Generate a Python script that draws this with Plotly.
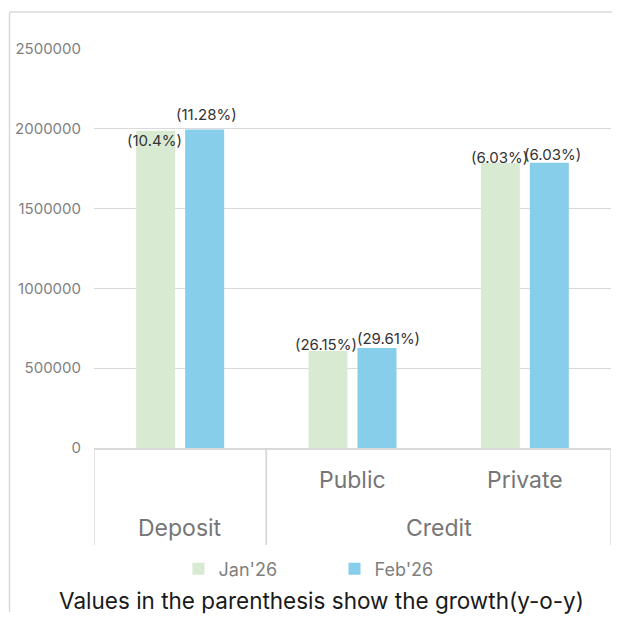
import plotly.graph_objects as go

# ---- data ----
outer_groups = ["Deposit", "Credit", "Credit"]
inner_labels = ["", "Public", "Private"]
categories = ["Deposit", "Public", "Private"]
series_names = ["Jan'26", "Feb'26"]
jan_values = [1988000, 607000, 1786000]
feb_values = [1996000, 627000, 1788000]
jan_growth = ["(10.4%)", "(26.15%)", "(6.03%)"]
feb_growth = ["(11.28%)", "(29.61%)", "(6.03%)"]
y_ticks = [0, 500000, 1000000, 1500000, 2000000, 2500000]
footnote = "Values in the parenthesis show the growth(y-o-y)"

# ---- styles ----
FONT = "Inter"
GREEN = "#d9ead3"
BLUE = "#87ceeb"
GRID = "#d9d9d9"
GRAY = "#7f7f7f"
W, H = 618, 624
ML, MR, MT, MB = 94, 7, 49, 176
PW, PH = W - ML - MR, H - MT - MB

# label fine offsets (px): [dx, dy] relative to bar centre / top
jan_off = [(-1, -10), (-2.5, 6.5), (-1, 5)]
feb_off = [(2, 14.5), (11, 9), (3, 8)]
half_pitch = 24.5

fig = go.Figure()
fig.add_trace(go.Bar(name=series_names[0], x=categories, y=jan_values,
                     marker=dict(color=GREEN, line=dict(width=0))))
fig.add_trace(go.Bar(name=series_names[1], x=categories, y=feb_values,
                     marker=dict(color=BLUE, line=dict(width=0))))

ann = []
for i, c in enumerate(categories):
    for vals, labs, offs, sgn in ((jan_values, jan_growth, jan_off, -1),
                                  (feb_values, feb_growth, feb_off, 1)):
        dx, dy = offs[i]
        ann.append(dict(x=c, y=vals[i], xref="x", yref="y", text=labs[i],
                        showarrow=False, xanchor="center", yanchor="middle",
                        xshift=sgn * half_pitch + dx, yshift=dy,
                        font=dict(family=FONT, size=15, color="#333333")))

# inner category labels
for i, lab in enumerate(inner_labels):
    if lab:
        ann.append(dict(x=i, y=0, xref="x", yref="paper", text=lab,
                        showarrow=False, yanchor="middle", yshift=-32,
                        font=dict(family=FONT, size=23, color="#767676")))
# outer group labels + dividers
groups = []
for i, g in enumerate(outer_groups):
    if groups and groups[-1][0] == g:
        groups[-1][2] = i
    else:
        groups.append([g, i, i])
shapes = []
div_len = 97 / PH
for g, a, b in groups:
    ann.append(dict(x=(a + b) / 2, y=0, xref="x", yref="paper", text=g,
                    showarrow=False, yanchor="middle", yshift=-80,
                    font=dict(family=FONT, size=23, color="#767676")))
    for xb in (a - 0.5, b + 0.5):
        shapes.append(dict(type="line", xref="x", yref="paper", x0=xb, x1=xb,
                           y0=0, y1=-div_len, line=dict(color=GRID, width=1.5)))

# outer chart frame: top and left edges
fx = (9.5 - ML) / PW
fy = (H - MB - 12) / PH
fx_right = (612 - ML) / PW
fy_bottom = -(612 - (H - MB)) / PH
shapes.append(dict(type="line", xref="paper", yref="paper", x0=fx, x1=fx_right,
                   y0=fy, y1=fy, line=dict(color=GRID, width=1.5)))
shapes.append(dict(type="line", xref="paper", yref="paper", x0=fx, x1=fx,
                   y0=fy, y1=fy_bottom, line=dict(color=GRID, width=1.5)))

fig.update_layout(
    width=W, height=H,
    margin=dict(l=ML, r=MR, t=MT, b=MB),
    paper_bgcolor="white", plot_bgcolor="white",
    barmode="group", bargap=0.4313, bargroupgap=0.204,
    showlegend=True,
    legend=dict(orientation="h", x=(334.5 - ML) / PW, xanchor="center",
                y=-(569 - (H - MB)) / PH, yanchor="middle",
                font=dict(family=FONT, size=18, color=GRAY),
                entrywidth=111, entrywidthmode="pixels", itemwidth=30),
    title=dict(text=footnote, x=321.5 / W, xanchor="center",
               y=1 - 601 / H, yanchor="middle", xref="container", yref="container",
               font=dict(family=FONT, size=22.5, color="#1a1a1a")),
    annotations=ann, shapes=shapes,
    xaxis=dict(type="category", showticklabels=False, showgrid=False,
               showline=True, linecolor=GRID, linewidth=1.5, zeroline=False,
               range=[-0.5, 2.5], fixedrange=True),
    yaxis=dict(range=[0, 2500000], tickvals=y_ticks, tickformat="d",
               showgrid=True, gridcolor=GRID, gridwidth=1, zeroline=False,
               showline=False, ticks="", ticklabelstandoff=12,
               tickfont=dict(family=FONT, size=15, color=GRAY)),
)

fig.write_html("out.html")
